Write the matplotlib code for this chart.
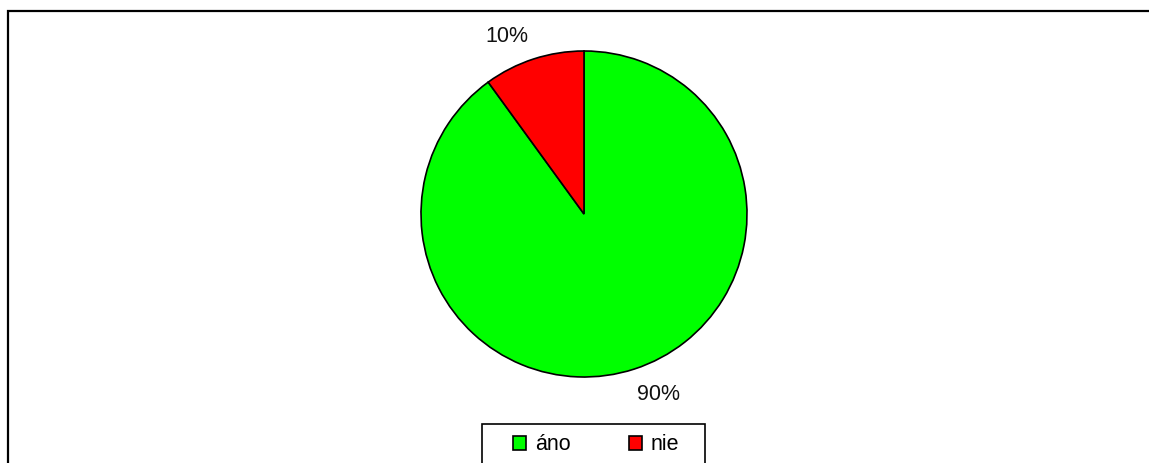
import matplotlib
matplotlib.use("Agg")
import matplotlib.pyplot as plt
from matplotlib.patches import Rectangle

categories = ["áno", "nie"]
values = [90, 10]
colors = ["#00FF00", "#FF0000"]

plt.rcParams['font.family'] = ['Liberation Sans', 'DejaVu Sans']

W, H = 1149, 463
fig = plt.figure(figsize=(W / 100, H / 100), dpi=100)

# outer border (cut off at right and bottom)
fig.patches.append(Rectangle((8 / W, -0.1), 1.2, 1 - 11 / H + 0.1, transform=fig.transFigure,
                             fill=False, edgecolor="black", linewidth=1.6))

cx, cy, r = 584, 214, 163
ax = fig.add_axes([(cx - r) / W, 1 - (cy + r) / H, 2 * r / W, 2 * r / H])
wedges, texts, autotexts = ax.pie(values, colors=colors, startangle=90, counterclock=False,
                                  autopct=lambda p: f"{p:.0f}%", pctdistance=1.19,
                                  wedgeprops=dict(edgecolor="black", linewidth=1.2),
                                  textprops=dict(fontsize=15.5, color="#111111"))
ax.set_xlim(-1, 1)
ax.set_ylim(-1, 1)
ax.set_aspect("equal")
ax.axis("off")
# Excel-like label offsets
autotexts[0].set_position((0.454, -1.11))
autotexts[1].set_position((-0.472, 1.086))

# legend box
fig.patches.append(Rectangle((482 / W, -0.1), 223 / W, 1 - 424 / H + 0.1, transform=fig.transFigure,
                             fill=False, edgecolor="black", linewidth=1.2))
handles = [Rectangle((0, 0), 1, 1, facecolor=c, edgecolor="black", linewidth=1.2) for c in colors]
leg = fig.legend(handles, categories, loc="center", bbox_to_anchor=(596 / W, 1 - 445 / H),
                 ncol=2, frameon=False, fontsize=15.5, handlelength=0.6, handleheight=0.6,
                 handletextpad=0.4, columnspacing=2.7, borderpad=0)

fig.savefig("out.png", dpi=100, facecolor="white")
